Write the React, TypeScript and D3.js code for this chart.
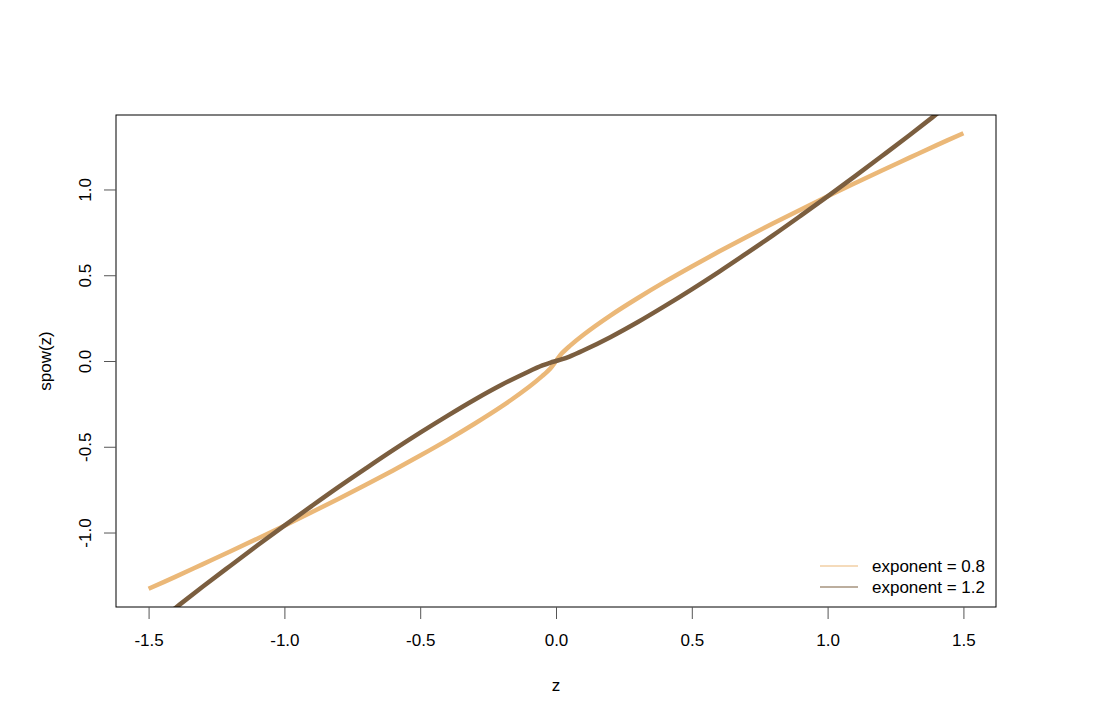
import { useEffect, useRef } from "react";
import * as d3 from "d3";

// values
const zValues = [-1.5, -1.4, -1.3, -1.2, -1.1, -1.0, -0.9, -0.8, -0.7, -0.6, -0.5, -0.4, -0.3, -0.2, -0.1, -0.05, -0.02, 0,
  0.02, 0.05, 0.1, 0.2, 0.3, 0.4, 0.5, 0.6, 0.7, 0.8, 0.9, 1.0, 1.1, 1.2, 1.3, 1.4, 1.5];
const spow08 = [-1.328, -1.257, -1.184, -1.111, -1.036, -0.96, -0.882, -0.803, -0.722, -0.638, -0.551, -0.461, -0.366, -0.265, -0.152, -0.087, -0.042, 0,
  0.042, 0.087, 0.152, 0.265, 0.366, 0.461, 0.551, 0.638, 0.722, 0.803, 0.882, 0.96, 1.036, 1.111, 1.184, 1.257, 1.328];
const spow12 = [-1.562, -1.438, -1.315, -1.195, -1.076, -0.96, -0.846, -0.734, -0.626, -0.52, -0.418, -0.32, -0.226, -0.139, -0.061, -0.026, -0.009, 0,
  0.009, 0.026, 0.061, 0.139, 0.226, 0.32, 0.418, 0.52, 0.626, 0.734, 0.846, 0.96, 1.076, 1.195, 1.315, 1.438, 1.562];
const xTicks = [-1.5, -1.0, -0.5, 0.0, 0.5, 1.0, 1.5];
const yTicks = [-1.0, -0.5, 0.0, 0.5, 1.0];
const seriesNames = ["exponent = 0.8", "exponent = 1.2"];
const seriesColors = ["#EBB878", "#7B5E3F"];

const App = () => {
  const ref = useRef<SVGSVGElement>(null);

  useEffect(() => {
    const svg = d3.select(ref.current);
    svg.selectAll("*").remove();

    const left = 116, right = 996, top = 115, bottom = 607;
    const font = "Liberation Sans, Arial, Helvetica, sans-serif";
    const fs = 17;
    // R prints a plain hyphen, not the unicode minus
    const fmt = (d: any) => (+d).toFixed(1);

    const x = d3.scaleLinear().domain([-1.62, 1.62]).range([left, right]);
    const y = d3.scaleLinear().domain([-1.4342, 1.4342]).range([bottom, top]);

    svg.append("defs").append("clipPath").attr("id", "plotclip")
      .append("rect").attr("x", left).attr("y", top).attr("width", right - left).attr("height", bottom - top);

    const series = [spow08, spow12];
    const line = d3.line<number>()
      .x((d, i) => x(zValues[i]))
      .y(d => y(d))
      .curve(d3.curveCatmullRom);

    const g = svg.append("g").attr("clip-path", "url(#plotclip)");
    series.forEach((s, k) => {
      g.append("path")
        .datum(s)
        .attr("fill", "none")
        .attr("stroke", seriesColors[k])
        .attr("stroke-width", 4.5)
        .attr("d", line);
    });

    // box
    svg.append("rect")
      .attr("x", left).attr("y", top).attr("width", right - left).attr("height", bottom - top)
      .attr("fill", "none").attr("stroke", "#000").attr("stroke-width", 1);

    // x axis
    const xa = svg.append("g").attr("transform", `translate(0,${bottom})`)
      .call(d3.axisBottom(x).tickValues(xTicks).tickSize(12).tickPadding(15).tickFormat(fmt));
    xa.select(".domain").remove();
    xa.selectAll("line").attr("stroke", "#555");
    xa.selectAll("text").attr("font-size", fs).attr("font-family", font).attr("fill", "#000");

    // y axis
    const ya = svg.append("g").attr("transform", `translate(${left},0)`)
      .call(d3.axisLeft(y).tickValues(yTicks).tickSize(12).tickFormat(fmt));
    ya.select(".domain").remove();
    ya.selectAll("line").attr("stroke", "#555");
    ya.selectAll("text")
      .attr("font-size", fs).attr("font-family", font).attr("fill", "#000")
      .attr("x", null).attr("dy", null)
      .attr("text-anchor", "middle")
      .attr("transform", "translate(-25,0) rotate(-90)");

    // axis titles
    svg.append("text").attr("x", (left + right) / 2).attr("y", 691)
      .attr("text-anchor", "middle").attr("font-size", fs).attr("font-family", font).text("z");
    svg.append("text").attr("transform", `translate(51,${(top + bottom) / 2}) rotate(-90)`)
      .attr("text-anchor", "middle").attr("font-size", fs).attr("font-family", font).text("spow(z)");

    // legend
    seriesNames.forEach((name, k) => {
      const ly = 566 + k * 21;
      svg.append("line").attr("x1", 820).attr("x2", 858).attr("y1", ly).attr("y2", ly)
        .attr("stroke", seriesColors[k]).attr("stroke-width", 1.2);
      svg.append("text").attr("x", 872).attr("y", ly + 6)
        .attr("font-size", fs).attr("font-family", font).text(name);
    });
  }, []);

  return (
    <div style={{ position: "absolute", left: 0, top: 0 }}>
      <svg ref={ref} width={1112} height={724} style={{ background: "#fff", display: "block" }} />
    </div>
  );
};

export default App;
